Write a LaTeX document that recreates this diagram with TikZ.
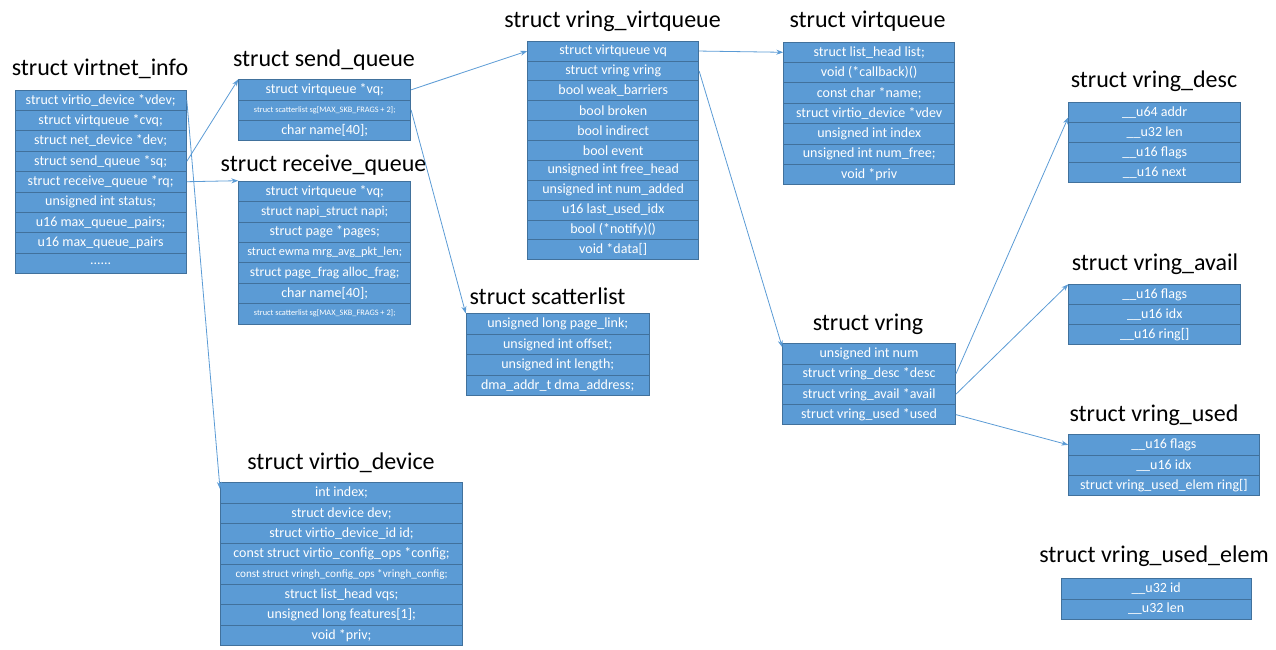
\documentclass[tikz,border=0pt]{standalone}
\usepackage{fontspec}
\setmainfont{Carlito}
\usetikzlibrary{arrows.meta}
\definecolor{cellfill}{HTML}{5B9BD5}
\definecolor{cellline}{HTML}{41719C}
\definecolor{arrowcol}{HTML}{5B9BD5}
\newcommand\smalltxt{\fontsize{8.3}{9}\selectfont}
\newcommand\midtxt{\fontsize{11.2}{12}\selectfont}
\newcommand\tighttxt{\fontsize{12.3}{13}\selectfont}
\newcommand\sixdots{.\kern0pt.\kern0pt.\kern0pt.\kern0pt.\kern0pt.}
\tikzset{
  cell/.style={draw=cellline, fill=cellfill, text=white, line width=0.8pt, inner sep=0pt,
    font=\fontsize{14}{16}\selectfont, anchor=north west},
  stitle/.style={font=\fontsize{24}{28}\selectfont, text=black, inner sep=0pt},
  link/.style={draw=arrowcol, line width=0.8pt, -{Stealth[length=7pt,width=5pt]}},
}
% prefix, x, y, w, h, title, title x, title y, rows
\newcommand\structbox[9]{%
  \node[stitle] (#1-t) at (#7,#8) {#6};
  \foreach \t [count=\i] in {#9} {
    \node[cell, minimum width=#4pt, minimum height=#5pt] (#1-\i) at ({#2},{#3+(\i-1)*#5}) {\t};
  }
}
\begin{document}
\begin{tikzpicture}[x=1pt,y=-1pt]
\useasboundingbox (0,0) rectangle (1276,649);

\structbox{vi}{14.5}{89.5}{171.5}{20.4}{struct virtnet\_info}{100}{69}{%
  struct virtio\_device *vdev;, struct virtqueue *cvq;, struct net\_device *dev;,
  struct send\_queue *sq;, struct receive\_queue *rq;, unsigned int status;,
  u16 max\_queue\_pairs;, u16 max\_queue\_pairs, \sixdots}

\structbox{sq}{238.3}{79.3}{172}{20.2}{struct send\_queue}{324}{60}{%
  struct virtqueue *vq;, {\smalltxt struct scatterlist sg[MAX\_SKB\_FRAGS + 2];}, char name[40];}

\structbox{rq}{238.3}{180.7}{172}{20.4}{struct receive\_queue}{323.5}{165}{%
  struct virtqueue *vq;, {\tighttxt\fontsize{13.5}{14}\selectfont struct napi\_struct napi;}, struct page *pages;,
  {\tighttxt struct ewma mrg\_avg\_pkt\_len;}, {\fontsize{13.5}{14}\selectfont struct page\_frag alloc\_frag;}, char name[40];,
  {\smalltxt struct scatterlist sg[MAX\_SKB\_FRAGS + 2];}}

\structbox{vv}{527.3}{40.7}{171}{19.87}{struct vring\_virtqueue}{612.5}{21}{%
  struct virtqueue vq, struct vring vring, bool weak\_barriers, bool broken,
  bool indirect, bool event, unsigned int free\_head, unsigned int num\_added,
  u16 last\_used\_idx, bool (*notify)(), void *data[]}

\structbox{vq}{783.3}{41.7}{171}{20.37}{struct virtqueue}{867.5}{21}{%
  struct list\_head list;, void (*callback)(), const char *name;,
  struct virtio\_device *vdev, unsigned int index, unsigned int num\_free;, void *priv}

\structbox{ds}{1068.3}{101.7}{172}{20.15}{struct vring\_desc}{1154}{81}{%
  \_\_u64 addr, \_\_u32 len, \_\_u16 flags, \_\_u16 next}

\structbox{av}{1068.3}{284.3}{172}{20}{struct vring\_avail}{1155}{264}{%
  \_\_u16 flags, \_\_u16 idx, \_\_u16 ring[]}

\structbox{sl}{465.7}{313.3}{183.3}{20.5}{struct scatterlist}{547.5}{296.7}{%
  unsigned long page\_link;, unsigned int offset;, unsigned int length;,
  dma\_addr\_t dma\_address;}

\structbox{vr}{782.3}{343.3}{172.7}{20.25}{struct vring}{868}{324}{%
  unsigned int num, struct vring\_desc *desc, struct vring\_avail *avail,
  struct vring\_used *used}

\structbox{us}{1068.3}{434.3}{190.4}{20.3}{struct vring\_used}{1154}{415}{%
  \_\_u16 flags, \_\_u16 idx, struct vring\_used\_elem ring[]}

\structbox{ue}{1060.7}{578.3}{190}{20.2}{struct vring\_used\_elem}{1154}{556}{%
  \_\_u32 id, \_\_u32 len}

\structbox{vd}{220}{482.3}{242.3}{20.33}{struct virtio\_device}{341}{463}{%
  int index;, struct device dev;, struct virtio\_device\_id id;,
  const struct virtio\_config\_ops *config;,
  {\midtxt const struct vringh\_config\_ops *vringh\_config;},
  struct list\_head vqs;, unsigned long features[1];, void *priv;}

\draw[link] (vi-4.east) -- (sq-1.north west);
\draw[link] (vi-5.east) -- (rq-1.north west);
\draw[link] (vi-1.east) -- ([yshift=4pt]vd-1.west);
\draw[link] (sq-1.east) -- (vv-1.west);
\draw[link] (sq-2.east) -- (sl-1.north west);
\draw[link] (vv-1.east) -- (vq-1.west);
\draw[link] (vv-2.east) -- ([yshift=-4pt]vr-1.north west);
\draw[link] (vr-2.east) -- ([yshift=-5pt]ds-1.west);
\draw[link] (vr-3.east) -- (av-1.north west);
\draw[link] (vr-4.east) -- (us-1.west);
\end{tikzpicture}
\end{document}
